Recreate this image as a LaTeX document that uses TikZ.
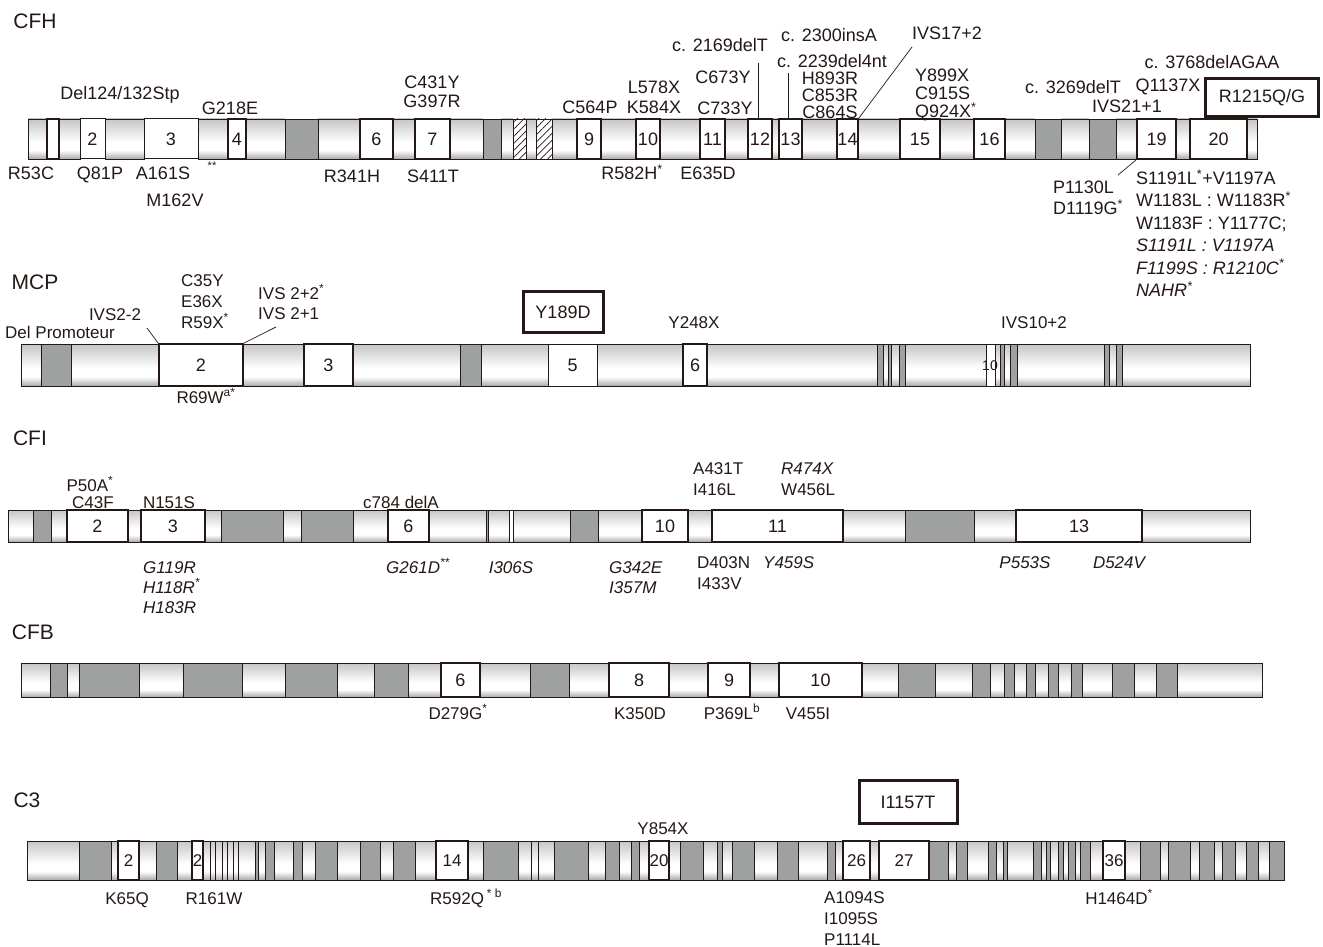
\documentclass[tikz,border=0pt]{standalone}
\usepackage{fontspec}
\setmainfont{Liberation Sans}
\usepackage{tikz}
\usetikzlibrary{patterns.meta}
\definecolor{ink}{HTML}{231815}
\definecolor{intron}{HTML}{9FA0A0}
\definecolor{shadetop}{HTML}{C6C6C6}
\definecolor{shadebot}{HTML}{A9A9A9}
\pgfdeclareverticalshading{cyl}{100bp}{color(0bp)=(shadebot); color(25bp)=(shadebot);
  color(36bp)=(white); color(46bp)=(white); color(75bp)=(shadetop); color(100bp)=(shadetop)}
\newcommand{\lblsize}{\fontsize{18}{20}\selectfont}
\newcommand{\smallsize}{\fontsize{17}{19}\selectfont}
\newcommand{\genesize}{\fontsize{21}{24}\selectfont}
\tikzset{
  gene/.style={font=\genesize, text=ink, inner sep=0pt},
  lbl/.style={font=\lblsize, text=ink, inner sep=0pt, text height=12.8pt, text depth=0pt},
  lbl2/.style={lbl, font=\smallsize, text height=12.2pt},
  itl/.style={lbl2, font=\smallsize\itshape},
  seg/.style={draw=ink, line width=0.8pt, shading=cyl},
  intr/.style={draw=ink, line width=0.8pt, fill=intron},
  hatch/.style={draw=ink, line width=0.8pt, fill=white,
    postaction={pattern={Lines[angle=45, distance=5pt, line width=0.7pt]}, pattern color=ink}},
  exon/.style={draw=ink, line width=1.8pt, fill=white, inner sep=0pt, font=\lblsize, text=ink},
  thinexon/.style={exon, line width=1pt},
  mutbox/.style={draw=ink, line width=3pt, fill=white, inner sep=0pt, font=\lblsize, text=ink},
  lead/.style={draw=ink, line width=0.7pt}
}
% exon box: [style]{name}{x left}{x right}{y top}{y bottom}{number}
\newcommand{\exonbox}[7][exon]{%
  \node[#1, minimum width={#4-#3}, minimum height={#6-#5}] (#2) at ({(#3+#4)/2},{(#5+#6)/2}) {#7};}

\begin{document}
\begin{tikzpicture}[x=1pt, y=-1pt]
  \useasboundingbox (0,0) rectangle (1323,947);

  % ---------------- CFH ----------------
  \node[gene] (cfhT) at (35,21) {CFH};
  \foreach \a/\b in {28/47, 59/80, 105/144, 198/228, 246/285, 318/360, 393/415, 450/483,
      501/513, 526/536, 552/577, 601/636, 660/700, 725/748, 772/779, 802/837, 858/900,
      940/974, 1005/1035, 1061/1089, 1116/1137, 1176/1190, 1247/1257}
    \path[seg] (\a,119) rectangle (\b,159);
  \foreach \a/\b in {285/318, 483/501, 1035/1061, 1089/1116}
    \path[intr] (\a,119) rectangle (\b,159);
  \foreach \a/\b in {513/526, 536/552}
    \path[hatch] (\a,119) rectangle (\b,159);
  \exonbox{cfh1}{47}{59}{119}{159}{}
  \exonbox[thinexon]{cfh2}{80}{105}{119}{159}{2}
  \exonbox[thinexon]{cfh3}{144}{198}{119}{159}{3}
  \exonbox{cfh4}{228}{246}{119}{159}{4}
  \exonbox{cfh6}{360}{393}{119}{159}{6}
  \exonbox{cfh7}{415}{450}{119}{159}{7}
  \exonbox{cfh9}{577}{601}{119}{159}{9}
  \exonbox{cfh10}{636}{660}{119}{159}{10}
  \exonbox{cfh11}{700}{725}{119}{159}{11}
  \exonbox{cfh12}{748}{772}{119}{159}{12}
  \exonbox{cfh13}{779}{802}{119}{159}{13}
  \exonbox{cfh14}{837}{858}{119}{159}{14}
  \exonbox{cfh15}{900}{940}{119}{159}{15}
  \exonbox{cfh16}{974}{1005}{119}{159}{16}
  \exonbox{cfh19}{1137}{1176}{119}{159}{19}
  \exonbox{cfh20}{1190}{1247}{119}{159}{20}

  % mutations above
  \node[lbl] (cfhDel) at (120,93) {Del124/132Stp};
  \node[lbl] (cfhG218) at (230,108) {G218E};
  \node[lbl] (cfhC431) at (432,82) {C431Y};
  \node[lbl] (cfhG397) at (432,101) {G397R};
  \node[lbl] (cfhC564) at (590,107) {C564P};
  \node[lbl] (cfhL578) at (654,87) {L578X};
  \node[lbl] (cfhK584) at (654,107) {K584X};
  \node[lbl] (cfhC673) at (723,77) {C673Y};
  \node[lbl] (cfhC733) at (725,108) {C733Y};
  \node[lbl] (cfh2169) at (720,45) {c. 2169delT};
  \node[lbl] (cfh2300) at (829,35) {c. 2300insA};
  \node[lbl] (cfh2239) at (832,61) {c. 2239del4nt};
  \foreach \t [count=\i] in {H893R, C853R, C864S}
    \node[lbl] (cfhH\i) at (830,61+17*\i) {\t};
  \node[lbl] (cfhIVS17) at (947,33) {IVS17+2};
  \foreach \t [count=\i] in {Y899X, C915S, {Q924X\textsuperscript{*}}}
    \node[lbl, anchor=west] (cfhY\i) at (915,57+18*\i) {\t};
  \node[lbl] (cfh3269) at (1073,87) {c. 3269delT};
  \node[lbl] (cfhIVS21) at (1127,106) {IVS21+1};
  \node[lbl] (cfh3768) at (1212,62) {c. 3768delAGAA};
  \node[lbl] (cfhQ1137) at (1168,85) {Q1137X};
  \node[mutbox, minimum width=113, minimum height=38] (cfhR1215) at (1262,98) {R1215Q/G};

  % mutations below
  \node[lbl] (cfhR53) at (31,173) {R53C};
  \node[lbl] (cfhQ81) at (100,173) {Q81P};
  \node[lbl] (cfhA161) at (163,173) {A161S};
  \node[lbl, font=\fontsize{11}{12}\selectfont, text height=6pt] (cfhStar) at (212,167) {**};
  \node[lbl] (cfhM162) at (175,200) {M162V};
  \node[lbl] (cfhR341) at (352,176) {R341H};
  \node[lbl] (cfhS411) at (433,176) {S411T};
  \node[lbl] (cfhR582) at (632,173) {R582H\textsuperscript{*}};
  \node[lbl] (cfhE635) at (708,173) {E635D};
  \node[lbl, anchor=west] (cfhP1130) at (1053,187) {P1130L};
  \node[lbl, anchor=west] (cfhD1119) at (1053,208) {D1119G\textsuperscript{*}};
  \foreach \t [count=\i] in {{S1191L\textsuperscript{*}+V1197A}, {W1183L : W1183R\textsuperscript{*}},
      {W1183F : Y1177C;}, {\itshape S1191L : V1197A}, {\itshape F1199S : R1210C\textsuperscript{*}},
      {\itshape NAHR\textsuperscript{*}}}
    \node[lbl, anchor=west] (cfhS\i) at (1136,155.6+22.4*\i) {\t};

  % leader lines
  \coordinate (cfhL12) at (758,63);
  \coordinate (cfhL13) at (788,73);
  \coordinate (cfhL17) at (912,47);
  \coordinate (cfhL19) at (1118,175);
  \draw[lead] (cfhL12) -- (cfhL12 |- cfh12.north);
  \draw[lead] (cfhL13) -- (cfhL13 |- cfh13.north);
  \draw[lead] (cfhL17) -- (cfh14.north east);
  \draw[lead] (cfhL19) -- (cfh19.south west);

  % ---------------- MCP ----------------
  \node[gene] (mcpT) at (35,282) {MCP};
  \foreach \a/\b in {21/41, 71/159, 243/304, 353/460, 481/548, 597/683, 707/877, 883/888,
      891/899, 905/986, 995/1000, 1004/1010, 1017/1104, 1109/1116, 1122/1250}
    \path[seg] (\a,344) rectangle (\b,386);
  \foreach \a/\b in {41/71, 460/481, 877/883, 888/891, 899/905, 1000/1004, 1010/1017,
      1104/1109, 1116/1122}
    \path[intr] (\a,344) rectangle (\b,386);
  \exonbox{mcp2}{159}{243}{344}{386}{2}
  \exonbox{mcp3}{304}{353}{344}{386}{3}
  \exonbox[thinexon]{mcp5}{548}{597}{344}{386}{5}
  \exonbox{mcp6}{683}{707}{344}{386}{6}
  \exonbox[thinexon]{mcp10}{986}{995}{344}{386}{}
  \node[lbl, font=\fontsize{14}{16}\selectfont, text height=10pt] (mcp10t) at (990,365) {10};

  \node[lbl2] (mcpDel) at (60,332) {Del Promoteur};
  \node[lbl2] (mcpIVS22) at (115,314) {IVS2-2};
  \foreach \t [count=\i] in {C35Y, E36X, {R59X\textsuperscript{*}}}
    \node[lbl2, anchor=west] (mcpC\i) at (181,259+21*\i) {\t};
  \node[lbl2, anchor=west] (mcpIVSa) at (258,293) {IVS 2+2\textsuperscript{*}};
  \node[lbl2, anchor=west] (mcpIVSb) at (258,313) {IVS 2+1};
  \node[lbl2] (mcpR69) at (206,397) {R69W\textsuperscript{a*}};
  \node[mutbox, minimum width=80, minimum height=41] (mcpY189) at (563,312) {Y189D};
  \node[lbl2] (mcpY248) at (694,322) {Y248X};
  \node[lbl2] (mcpIVS10) at (1034,322) {IVS10+2};
  \coordinate (mcpLa) at (147,328);
  \coordinate (mcpLb) at (276,327);
  \draw[lead] (mcpLa) -- (mcp2.north west);
  \draw[lead] (mcpLb) -- (mcp2.north east);

  % ---------------- CFI ----------------
  \node[gene] (cfiT) at (30,438) {CFI};
  \foreach \a/\b in {8/33, 51/67, 128/141, 205/221, 283/301, 353/388, 429/486, 488/509,
      513/570, 598/642, 688/712, 843/905, 974/1016, 1142/1250}
    \path[seg] (\a,510) rectangle (\b,542);
  \foreach \a/\b in {33/51, 221/283, 301/353, 486/488, 570/598, 905/974}
    \path[intr] (\a,510) rectangle (\b,542);
  \exonbox{cfi2}{67}{128}{510}{542}{2}
  \exonbox{cfi3}{141}{205}{510}{542}{3}
  \exonbox{cfi6}{388}{429}{510}{542}{6}
  \exonbox[thinexon]{cfi7}{509}{513}{510}{542}{}
  \exonbox{cfi10}{642}{688}{510}{542}{10}
  \exonbox{cfi11}{712}{843}{510}{542}{11}
  \exonbox{cfi13}{1016}{1142}{510}{542}{13}

  \node[lbl2] (cfiP50) at (90,485) {P50A\textsuperscript{*}};
  \node[lbl2] (cfiC43) at (93,502) {C43F};
  \node[lbl2] (cfiN151) at (169,502) {N151S};
  \node[lbl2] (cfi784) at (401,502) {c784 delA};
  \node[lbl2, anchor=west] (cfiA431) at (693,468) {A431T};
  \node[lbl2, anchor=west] (cfiI416) at (693,489) {I416L};
  \node[itl, anchor=west] (cfiR474) at (781,468) {R474X};
  \node[lbl2, anchor=west] (cfiW456) at (781,489) {W456L};
  \foreach \t [count=\i] in {G119R, {H118R\textsuperscript{*}}, H183R}
    \node[itl, anchor=west] (cfiG\i) at (143,547+20*\i) {\t};
  \node[itl] (cfiG261) at (418,567) {G261D\textsuperscript{**}};
  \node[itl] (cfiI306) at (511,567) {I306S};
  \node[itl, anchor=west] (cfiG342) at (609,567) {G342E};
  \node[itl, anchor=west] (cfiI357) at (609,587) {I357M};
  \node[lbl2, anchor=west] (cfiD403) at (697,562) {D403N};
  \node[lbl2, anchor=west] (cfiI433) at (697,583) {I433V};
  \node[itl, anchor=west] (cfiY459) at (763,562) {Y459S};
  \node[itl] (cfiP553) at (1025,562) {P553S};
  \node[itl] (cfiD524) at (1119,562) {D524V};

  % ---------------- CFB ----------------
  \node[gene] (cfbT) at (33,632) {CFB};
  \foreach \a/\b in {21/50, 67/79, 139/183, 242/285, 337/374, 408/441, 480/530, 569/609,
      669/708, 750/779, 862/898, 935/972, 990/1004, 1014/1026, 1035/1048, 1058/1071,
      1082/1112, 1134/1156, 1177/1262}
    \path[seg] (\a,663) rectangle (\b,697);
  \foreach \a/\b in {50/67, 79/139, 183/242, 285/337, 374/408, 530/569, 898/935, 972/990,
      1004/1014, 1026/1035, 1048/1058, 1071/1082, 1112/1134, 1156/1177}
    \path[intr] (\a,663) rectangle (\b,697);
  \exonbox{cfb6}{441}{480}{663}{697}{6}
  \exonbox{cfb8}{609}{669}{663}{697}{8}
  \exonbox{cfb9}{708}{750}{663}{697}{9}
  \exonbox{cfb10}{779}{862}{663}{697}{10}

  \node[lbl2] (cfbD279) at (458,713) {D279G\textsuperscript{*}};
  \node[lbl2] (cfbK350) at (640,713) {K350D};
  \node[lbl2] (cfbP369) at (732,713) {P369L\textsuperscript{b}};
  \node[lbl2] (cfbV455) at (808,713) {V455I};

  % ---------------- C3 ----------------
  \node[gene] (c3T) at (27,800) {C3};
  \foreach \a/\b in {27/79, 111/118, 139/156, 177/192, 203/210, 210/215, 215/222, 222/227,
      227/233, 233/238, 238/255, 258/265, 274/293, 302/315, 337/360, 380/393, 415/436,
      468/483, 518/531, 531/538, 538/554, 588/605, 619/631, 639/649, 669/680, 703/717,
      722/732, 754/777, 798/827, 835/843, 870/879, 948/956, 967/988, 996/1003, 1007/1033,
      1041/1046, 1050/1058, 1063/1068, 1075/1080, 1090/1103, 1125/1140, 1160/1168,
      1190/1199, 1214/1222, 1235/1246, 1258/1269}
    \path[seg] (\a,841) rectangle (\b,880);
  \foreach \a/\b in {79/111, 156/177, 255/258, 265/274, 293/302, 315/337, 360/380, 393/415,
      483/518, 554/588, 605/619, 631/639, 680/703, 717/722, 732/754, 777/798, 827/835,
      929/948, 956/967, 988/996, 1003/1007, 1033/1041, 1046/1050, 1058/1063, 1068/1075,
      1080/1090, 1140/1160, 1168/1190, 1199/1214, 1222/1235, 1246/1258, 1269/1284}
    \path[intr] (\a,841) rectangle (\b,880);
  \exonbox[exon, font=\smallsize]{c3e2}{118}{139}{841}{880}{2}
  \exonbox[exon, font=\smallsize]{c3e2b}{192}{203}{841}{880}{2}
  \exonbox[exon, font=\smallsize]{c3e14}{436}{468}{841}{880}{14}
  \exonbox[exon, font=\smallsize]{c3e20}{649}{669}{841}{880}{20}
  \exonbox[exon, font=\smallsize]{c3e26}{843}{870}{841}{880}{26}
  \exonbox[exon, font=\smallsize]{c3e27}{879}{929}{841}{880}{27}
  \exonbox[exon, font=\smallsize]{c3e36}{1103}{1125}{841}{880}{36}

  \node[lbl2] (c3K65) at (127,898) {K65Q};
  \node[lbl2] (c3R161) at (214,898) {R161W};
  \node[lbl2, anchor=west] (c3R592) at (430,898) {R592Q\,\textsuperscript{* b}};
  \node[lbl2] (c3Y854) at (663,828) {Y854X};
  \node[mutbox, minimum width=98, minimum height=43] (c3I1157) at (908,802) {I1157T};
  \foreach \t [count=\i] in {A1094S, I1095S, P1114L}
    \node[lbl2, anchor=west] (c3A\i) at (824,876+21*\i) {\t};
  \node[lbl2] (c3H1464) at (1119,898) {H1464D\textsuperscript{*}};
\end{tikzpicture}
\end{document}
